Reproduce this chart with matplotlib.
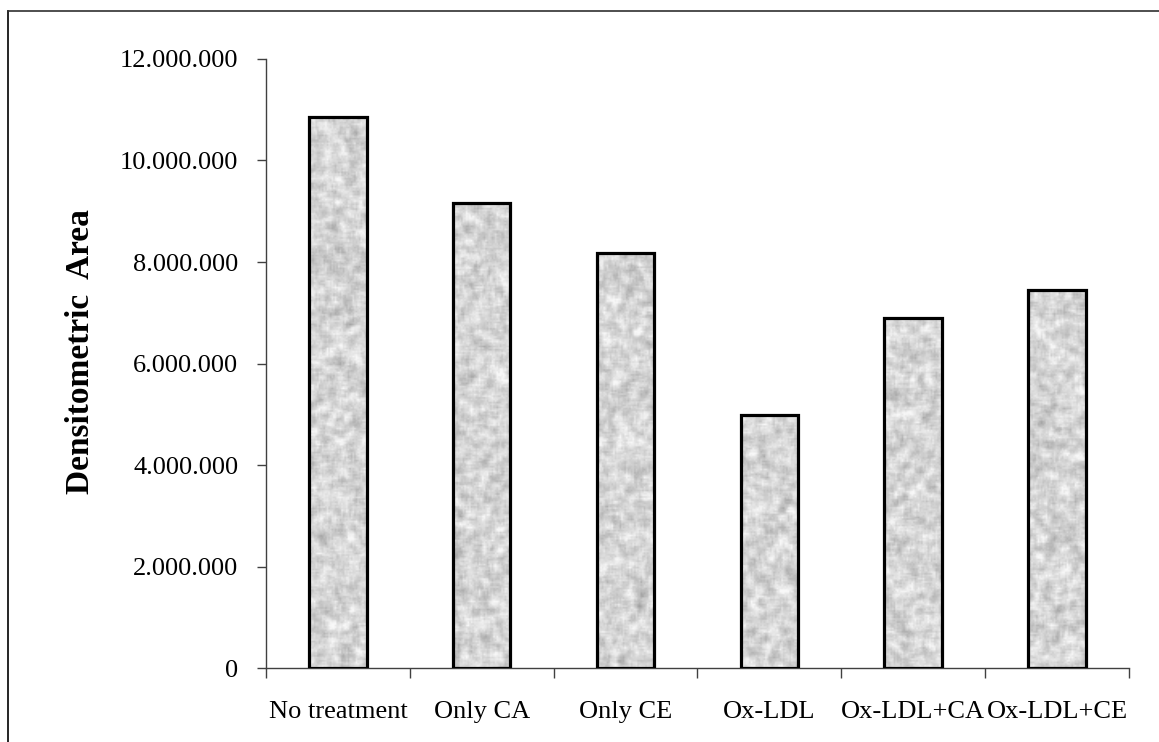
import numpy as np
import matplotlib
matplotlib.use("Agg")
import matplotlib.pyplot as plt
from matplotlib.ticker import FuncFormatter, FixedLocator
from matplotlib.lines import Line2D

categories = ["No treatment", "Only CA", "Only CE", "Ox-LDL", "Ox-LDL+CA", "Ox-LDL+CE"]
values = [10850000, 9160000, 8180000, 4990000, 6900000, 7450000]
y_ticks = [0, 2000000, 4000000, 6000000, 8000000, 10000000, 12000000]

plt.rcParams["font.family"] = ["Liberation Serif", "DejaVu Serif"]

fig = plt.figure(figsize=(11.59, 7.42), dpi=100)
ax = fig.add_axes([0.2295, 0.0997, 0.7445, 0.8208])

# granite-like grey fill texture
rng = np.random.default_rng(7)
def granite(h, w):
    n = rng.random((h + 8, w + 8))
    acc = np.zeros_like(n)
    for dy in range(-2, 3):
        for dx in range(-2, 3):
            acc += np.roll(np.roll(n, dy, 0), dx, 1)
    acc /= 25.0
    acc = (acc - acc.mean()) / acc.std()
    fine = rng.random((h + 8, w + 8)) - 0.5
    t = 0.835 + 0.05 * acc + 0.05 * fine
    return np.clip(t[4:-4, 4:-4], 0.6, 0.97)

width = 0.4
x = np.arange(len(categories))
bars = ax.bar(x, values, width=width, facecolor="none", edgecolor="black",
              linewidth=2.3, zorder=3)
for b in bars:
    x0 = b.get_x()
    h = b.get_height()
    hp = max(int(h / 12000000 * 609 / 1.6), 4)
    tex = granite(hp, 36)
    im = ax.imshow(tex, cmap="gray", vmin=0, vmax=1, extent=(x0, x0 + width, 0, h),
                   aspect="auto", interpolation="bilinear", zorder=2)
    im.set_clip_path(b)

ax.set_xlim(-0.5, len(categories) - 0.5)
ax.set_ylim(0, 12000000)
ax.set_yticks(y_ticks)
ax.yaxis.set_major_formatter(FuncFormatter(lambda v, p: f"{int(v):,}".replace(",", ".")))
ax.xaxis.set_major_locator(FixedLocator(np.arange(-0.5, len(categories), 1.0)))
ax.xaxis.set_minor_locator(FixedLocator(x))
ax.set_xticklabels([""] * (len(categories) + 1))
ax.set_xticklabels(categories, minor=True)
ax.tick_params(axis="x", which="minor", length=0, pad=24, labelsize=19)
ax.tick_params(axis="x", which="major", length=7, width=1, color="#404040", direction="out")
ax.tick_params(axis="y", length=6.5, width=1, color="#404040", direction="out", labelsize=19, pad=13.5)

for s in ["top", "right"]:
    ax.spines[s].set_visible(False)
for s in ["left", "bottom"]:
    ax.spines[s].set_color("#404040")
    ax.spines[s].set_linewidth(1.0)

ax.set_ylabel("Densitometric  Area", fontsize=24, fontweight="bold")
ax.yaxis.set_label_coords(-0.197, 0.52)

# outer frame (left and top edges)
fig.add_artist(Line2D([8 / 1159, 8 / 1159], [0, 1 - 11 / 742], transform=fig.transFigure,
                      color="black", lw=1.2))
fig.add_artist(Line2D([8 / 1159, 1], [1 - 11 / 742, 1 - 11 / 742], transform=fig.transFigure,
                      color="#303030", lw=1.2))

fig.savefig("out.png", dpi=100, facecolor="white")
